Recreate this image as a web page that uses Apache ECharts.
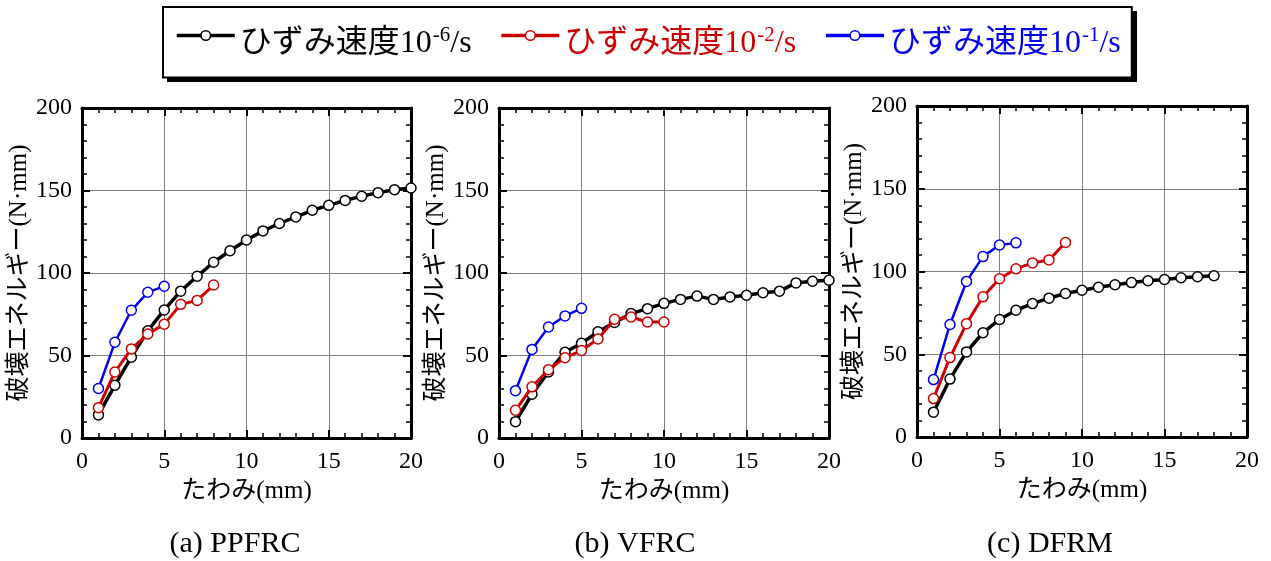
<!DOCTYPE html>
<html>
<head>
<meta charset="utf-8">
<script src="https://cdn.jsdelivr.net/npm/echarts@6/dist/echarts.min.js"></script>
<style>
html,body{margin:0;padding:0;background:#fff;}
#chart{width:1271px;height:561px;}
</style>
</head>
<body>
<div id="chart"></div>
<script>
// ---- data ----
var seriesNames = ['ひずみ速度10-6/s', 'ひずみ速度10-2/s', 'ひずみ速度10-1/s'];
var seriesExp = ['-6', '-2', '-1'];
var seriesColors = ['#000000', '#cc0000', '#0000ee'];
var panelCaptions = ['(a) PPFRC', '(b) VFRC', '(c) DFRM'];
var xTicks = [0, 5, 10, 15, 20];
var yTicks = [0, 50, 100, 150, 200];

// (a) PPFRC
var aBlackX = [1,2,3,4,5,6,7,8,9,10,11,12,13,14,15,16,17,18,19,20];
var aBlackY = [14,32,49,65,77.6,89,98,106.5,113.5,120,125.5,130,134,138,141,144,146.5,148.7,150.5,151.5];
var aRedX = [1,2,3,4,5,6,7,8];
var aRedY = [18.4,40,54,63,69,81,83.4,92.7];
var aBlueX = [1,2,3,4,5];
var aBlueY = [30,58,77.4,88.3,92];

// (b) VFRC
var bBlackX = [1,2,3,4,5,6,7,8,9,10,11,12,13,14,15,16,17,18,19,20];
var bBlackY = [9.9,26.5,40,52,57.4,64.4,70,75.4,78.4,81.6,84,86,84,85.5,86.5,88,89,94,95,95.6];
var bRedX = [1,2,3,4,5,6,7,8,9,10];
var bRedY = [16.8,31,41.4,48.7,53,60,72,73.3,70.3,70.3];
var bBlueX = [1,2,3,4,5];
var bBlueY = [28.7,53.7,67.3,74,78.6];

// (c) DFRM
var cBlackX = [1,2,3,4,5,6,7,8,9,10,11,12,13,14,15,16,17,18];
var cBlackY = [15,35,51.4,63,71,76.6,80.6,83.9,86.7,88.7,90.5,92,93.3,94.4,95.2,96.2,96.8,97.4];
var cRedX = [1,2,3,4,5,6,7,8,9];
var cRedY = [23.2,48,68.5,84.7,95.6,101.6,105.2,107,117.5];
var cBlueX = [1,2,3,4,5,6];
var cBlueY = [34.7,68,94,109,116,117.3];

var panels = [
  [[aBlackX,aBlackY],[aRedX,aRedY],[aBlueX,aBlueY]],
  [[bBlackX,bBlackY],[bRedX,bRedY],[bBlueX,bBlueY]],
  [[cBlackX,cBlackY],[cRedX,cRedY],[cBlueX,cBlueY]]
];

// ---- layout ----
var SERIF = '"Liberation Serif", "Times New Roman", "Noto Sans CJK JP", serif';
var gridPos = [
  {left: 82, top: 108, width: 329, height: 330},
  {left: 499, top: 108, width: 330, height: 330},
  {left: 917, top: 106, width: 330, height: 331}
];
var captionX = [230, 630, 1045];
var lineWidths = [3.5, 3, 2.5];

function pairs(xs, ys) { return xs.map(function (x, i) { return [x, ys[i]]; }); }

var grids = [], xAxes = [], yAxes = [], series = [], titles = [];
gridPos.forEach(function (g, i) {
  grids.push({left: g.left, top: g.top, width: g.width, height: g.height, containLabel: false});
  var axLine = {show: true, onZero: false, lineStyle: {color: '#000', width: 3}};
  var tick = {show: true, inside: true, length: 8, lineStyle: {color: '#000', width: 2}};
  var minor = {show: true, splitNumber: 5, length: 5, lineStyle: {color: '#000', width: 1.5}};
  xAxes.push({
    type: 'value', gridIndex: i, position: 'bottom', min: xTicks[0], max: xTicks[xTicks.length-1], interval: 5,
    axisLine: axLine, axisTick: tick, minorTick: minor,
    splitLine: {show: true, lineStyle: {color: '#808080', width: 1}},
    axisLabel: {color: '#000', fontSize: 24, fontFamily: SERIF, margin: 12},
    name: 'たわみ(mm)', nameLocation: 'middle', nameGap: 38,
    nameTextStyle: {color: '#000', fontSize: 25, fontFamily: SERIF}
  });
  xAxes.push({
    type: 'value', gridIndex: i, position: 'top', min: xTicks[0], max: xTicks[xTicks.length-1], interval: 5,
    axisLine: axLine, axisTick: tick, minorTick: minor, splitLine: {show: false}, axisLabel: {show: false}
  });
  yAxes.push({
    type: 'value', gridIndex: i, position: 'left', min: yTicks[0], max: yTicks[yTicks.length-1], interval: 50,
    axisLine: axLine, axisTick: tick, minorTick: minor,
    splitLine: {show: true, lineStyle: {color: '#808080', width: 1}},
    axisLabel: {color: '#000', fontSize: 24, fontFamily: SERIF, margin: 10},
    name: '破壊エネルギー(N·mm)', nameLocation: 'middle', nameGap: 49,
    nameTextStyle: {color: '#000', fontSize: 25, fontFamily: SERIF}
  });
  yAxes.push({
    type: 'value', gridIndex: i, position: 'right', min: yTicks[0], max: yTicks[yTicks.length-1], interval: 50,
    axisLine: axLine, axisTick: tick, minorTick: minor, splitLine: {show: false}, axisLabel: {show: false}
  });
  panels[i].forEach(function (d, k) {
    series.push({
      type: 'line', name: seriesNames[k], xAxisIndex: 2*i, yAxisIndex: 2*i,
      data: pairs(d[0], d[1]),
      symbol: 'circle', symbolSize: 10, showSymbol: true,
      lineStyle: {color: seriesColors[k], width: lineWidths[k]},
      itemStyle: {color: '#fff', borderColor: seriesColors[k], borderWidth: 1.5},
      z: 2 + k, animation: false
    });
  });
  titles.push({
    text: panelCaptions[i], left: captionX[i], top: 524, textAlign: 'center',
    textStyle: {color: '#000', fontSize: 30, fontWeight: 'normal', fontFamily: SERIF}
  });
});

var legendData = seriesNames.map(function (n, k) {
  var c = seriesColors[k];
  return {
    name: n,
    itemStyle: {color: '#fff', borderColor: c, borderWidth: 1.5},
    lineStyle: {color: c, width: 3.5},
    textStyle: {
      color: c,
      rich: {
        m: {color: c, fontSize: 32, fontFamily: SERIF, padding: [16, 0, 0, 0]},
        s: {color: c, fontSize: 21, fontFamily: SERIF, padding: [0, 0, 0, 1]},
        t: {color: c, fontSize: 32, fontFamily: SERIF, padding: [16, 0, 0, 0]}
      }
    }
  };
});

var chart = echarts.init(document.getElementById('chart'), null, {renderer: 'canvas'});
chart.setOption({
  backgroundColor: '#fff',
  animation: false,
  title: titles,
  graphic: [{
    type: 'rect', left: 167, top: 11, z: 0, silent: true,
    shape: {width: 970, height: 71},
    style: {fill: '#000'}
  }],
  legend: {
    data: legendData,
    left: 163, top: 7, z: 5,
    padding: [18, 11, 18, 12],
    itemGap: 28, itemWidth: 58, itemHeight: 12,
    borderColor: '#000', borderWidth: 2, backgroundColor: '#fff',
    selectedMode: false,
    formatter: function (name) {
      var k = seriesNames.indexOf(name);
      return '{m|ひずみ速度10}{s|' + seriesExp[k] + '}{t|/s}';
    }
  },
  grid: grids,
  xAxis: xAxes,
  yAxis: yAxes,
  series: series
});
</script>
</body>
</html>
